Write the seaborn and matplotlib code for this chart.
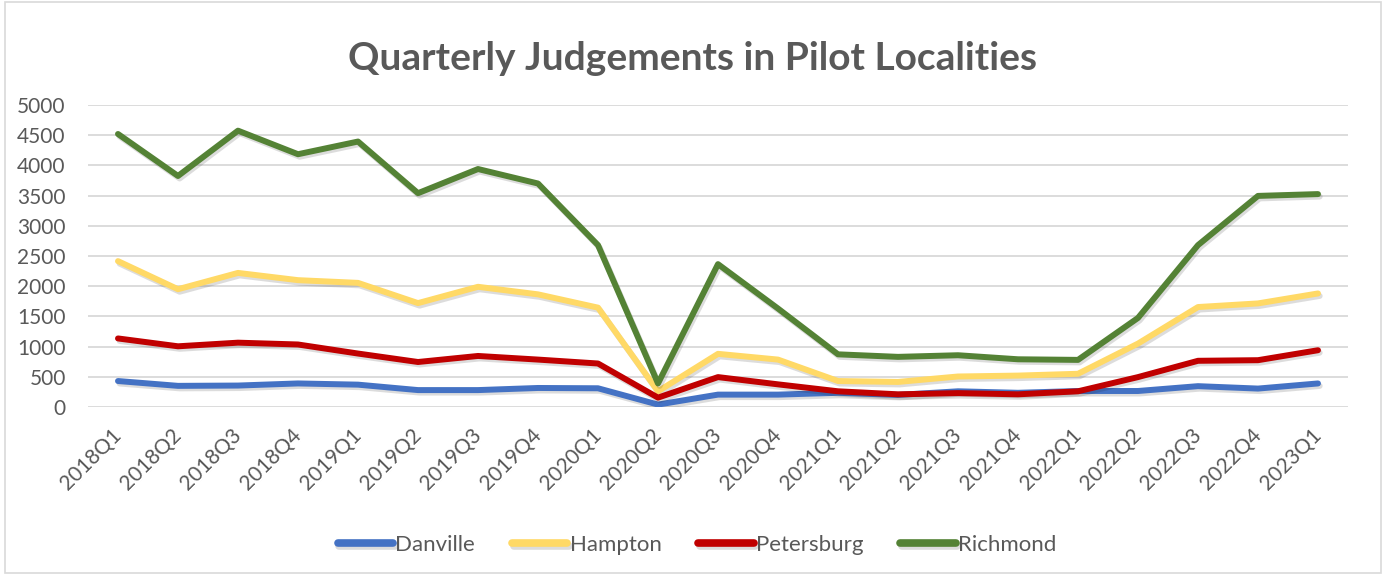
import matplotlib
matplotlib.use("Agg")
import matplotlib.pyplot as plt
import matplotlib.patheffects as pe
from matplotlib.patches import Rectangle
import seaborn as sns
import pandas as pd

quarters = ["2018Q1", "2018Q2", "2018Q3", "2018Q4", "2019Q1", "2019Q2", "2019Q3",
            "2019Q4", "2020Q1", "2020Q2", "2020Q3", "2020Q4", "2021Q1", "2021Q2",
            "2021Q3", "2021Q4", "2022Q1", "2022Q2", "2022Q3", "2022Q4", "2023Q1"]
danville = [430, 350, 355, 390, 370, 280, 280, 315, 310, 40, 205, 205, 235, 200,
            260, 235, 265, 265, 345, 305, 390]
hampton = [2415, 1950, 2220, 2100, 2055, 1720, 1990, 1865, 1645, 260, 880, 785,
           430, 415, 505, 520, 550, 1050, 1655, 1715, 1880]
petersburg = [1135, 1005, 1065, 1035, 885, 745, 845, 785, 720, 155, 495, 375,
              260, 210, 230, 210, 260, 495, 765, 775, 940]
richmond = [4520, 3825, 4575, 4185, 4395, 3540, 3940, 3700, 2680, 390, 2365, 1630,
            872, 830, 857, 790, 780, 1475, 2680, 3495, 3525]
series_names = ["Danville", "Hampton", "Petersburg", "Richmond"]
colors = ["#4472C4", "#FFD966", "#C00000", "#548235"]
yticks = [0, 500, 1000, 1500, 2000, 2500, 3000, 3500, 4000, 4500, 5000]

rows = []
for name, vals in zip(series_names, [danville, hampton, petersburg, richmond]):
    for i, v in enumerate(vals):
        rows.append({"Quarter": quarters[i], "idx": i, "Locality": name, "Value": v})
df = pd.DataFrame(rows)

sns.set_theme(style="white")
plt.rcParams["font.family"] = ["Lato", "DejaVu Sans"]
txt = "#595959"

fig = plt.figure(figsize=(13.85, 5.75), dpi=100)
ax = fig.add_axes([88 / 1385, 1 - 407 / 575, (1348 - 88) / 1385, (407 - 105) / 575])

sns.lineplot(data=df, x="idx", y="Value", hue="Locality", hue_order=series_names,
             palette=colors, linewidth=4.3, ax=ax, legend=True, sort=False)
for line in ax.lines:
    line.set_solid_capstyle("round")
    line.set_solid_joinstyle("round")
    line.set_path_effects([pe.SimpleLineShadow(offset=(1.2, -1.8), shadow_color="k", alpha=0.15),
                           pe.Normal()])

ax.set_xlim(-0.5, len(quarters) - 0.5)
ax.set_ylim(0, 5000)
ax.set_yticks(yticks)
ax.set_yticklabels([str(t) for t in yticks], fontsize=15, color=txt)
ax.set_xticks(range(len(quarters)))
ax.set_xticklabels(quarters, rotation=45, ha="right", va="center",
                   rotation_mode="anchor", fontsize=15, color=txt)
ax.tick_params(axis="both", length=0)
ax.tick_params(axis="y", pad=16)
ax.tick_params(axis="x", pad=18)
ax.grid(axis="y", color="#D9D9D9", linewidth=1.3)
ax.set_axisbelow(True)
for s in ax.spines.values():
    s.set_visible(False)
ax.set_xlabel("")
ax.set_ylabel("")

handles, labels = ax.get_legend_handles_labels()
ax.get_legend().remove()
for h in handles:
    h.set_linewidth(5.5)
    h.set_solid_capstyle("round")
leg = fig.legend(handles, labels, loc="center", bbox_to_anchor=(697 / 1385, 1 - 545 / 575),
                 ncol=4, frameon=False, fontsize=16, handlelength=2.5,
                 handletextpad=0.1, columnspacing=1.65)
for t in leg.get_texts():
    t.set_color(txt)

fig.text(0.5, 1 - 70 / 575, "Quarterly Judgements in Pilot Localities",
         ha="center", va="baseline", fontsize=28, fontweight="bold", color=txt)

fig.patches.append(Rectangle((5 / 1385, 2 / 575), 1376 / 1385, 571 / 575,
                             transform=fig.transFigure, fill=False,
                             edgecolor="#D9D9D9", linewidth=1.2))

fig.savefig("out.png", dpi=100)
